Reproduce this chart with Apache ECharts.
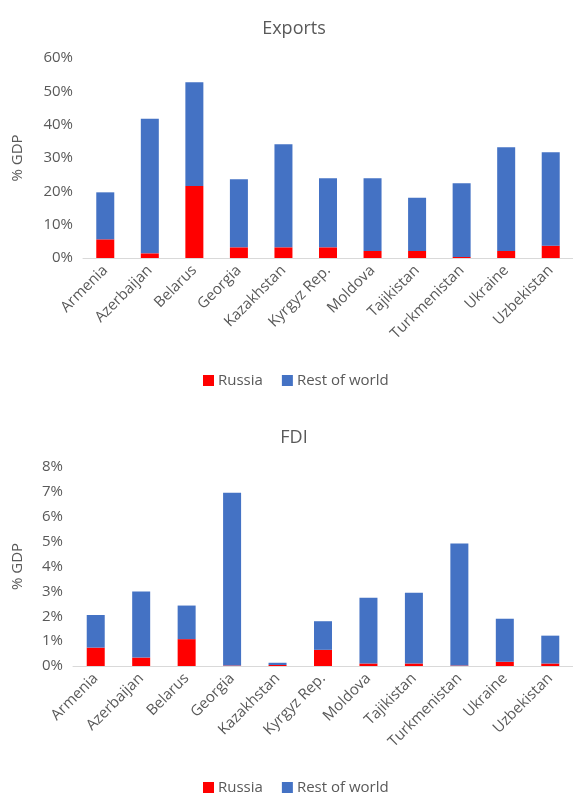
<!DOCTYPE html>
<html>
<head>
<meta charset="utf-8">
<script src="https://cdn.jsdelivr.net/npm/echarts@6/dist/echarts.min.js"></script>
<style>
  html, body { margin: 0; padding: 0; background: #fff; }
  #chart { width: 573px; height: 794px; }
</style>
</head>
<body>
<div id="chart"></div>
<script>
// countries, same order in both panels
const countries = ["Armenia", "Azerbaijan", "Belarus", "Georgia", "Kazakhstan", "Kyrgyz Rep.",
  "Moldova", "Tajikistan", "Turkmenistan", "Ukraine", "Uzbekistan"];

// Exports, % GDP
const exportsRussia = [5.6, 1.4, 21.6, 3.2, 3.2, 3.2, 2.1, 2.1, 0.3, 2.1, 3.7];
const exportsRest = [14.1, 40.4, 31.1, 20.4, 30.9, 20.7, 21.8, 16.0, 22.1, 31.1, 28.0];

// FDI, % GDP
const fdiRussia = [0.74, 0.34, 1.08, 0.02, 0.04, 0.65, 0.1, 0.1, 0.02, 0.17, 0.1];
const fdiRest = [1.31, 2.66, 1.35, 6.94, 0.09, 1.15, 2.64, 2.84, 4.9, 1.73, 1.12];

const exportsTicks = [0, 10, 20, 30, 40, 50, 60];
const fdiTicks = [0, 1, 2, 3, 4, 5, 6, 7, 8];

const fontFamily = "Open Sans";
const textColor = "#595959";
const red = "#ff0000";
const blue = "#4472c4";

function xAxisFor(gridIndex) {
  return {
    type: "category",
    gridIndex: gridIndex,
    data: countries,
    axisTick: { show: false },
    axisLine: { lineStyle: { color: "#d9d9d9" } },
    axisLabel: {
      color: textColor,
      fontFamily: fontFamily,
      fontSize: 15,
      rotate: 45,
      interval: 0,
      margin: 10
    }
  };
}

function yAxisFor(gridIndex, ticks, gap) {
  return {
    type: "value",
    gridIndex: gridIndex,
    min: ticks[0],
    max: ticks[ticks.length - 1],
    interval: ticks[1] - ticks[0],
    name: "% GDP",
    nameLocation: "middle",
    nameGap: gap,
    nameTextStyle: { color: textColor, fontFamily: fontFamily, fontSize: 15 },
    splitLine: { show: false },
    axisLine: { show: false },
    axisTick: { show: false },
    axisLabel: {
      color: textColor,
      fontFamily: fontFamily,
      fontSize: 15,
      margin: 10,
      formatter: "{value}%"
    }
  };
}

function bars(name, data, color, axisIndex, stack) {
  return {
    name: name,
    type: "bar",
    stack: stack,
    xAxisIndex: axisIndex,
    yAxisIndex: axisIndex,
    barWidth: 18,
    data: data,
    itemStyle: { color: color },
    emphasis: { disabled: true }
  };
}

function legendAt(top) {
  return {
    top: top,
    left: 198,
    itemWidth: 11,
    itemHeight: 11,
    itemGap: 19,
    icon: "rect",
    textStyle: { color: textColor, fontFamily: fontFamily, fontSize: 15, padding: [0, 0, 0, -1] },
    data: ["Russia", "Rest of world"]
  };
}

let myChart = echarts.init(document.getElementById("chart"));

let option = {
  animation: false,
  title: [
    {
      text: "Exports",
      left: 289,
      top: 15,
      textAlign: "center",
      textStyle: { color: textColor, fontFamily: fontFamily, fontSize: 18, fontWeight: "normal" }
    },
    {
      text: "FDI",
      left: 289,
      top: 424,
      textAlign: "center",
      textStyle: { color: textColor, fontFamily: fontFamily, fontSize: 18, fontWeight: "normal" }
    }
  ],
  legend: [legendAt(368), legendAt(775)],
  grid: [
    { left: 83, top: 58, right: -4, height: 200 },
    { left: 73, top: 467, right: -2, height: 199 }
  ],
  xAxis: [xAxisFor(0), xAxisFor(1)],
  yAxis: [yAxisFor(0, exportsTicks, 58), yAxisFor(1, fdiTicks, 48)],
  series: [
    bars("Russia", exportsRussia, red, 0, "exp"),
    bars("Rest of world", exportsRest, blue, 0, "exp"),
    bars("Russia", fdiRussia, red, 1, "fdi"),
    bars("Rest of world", fdiRest, blue, 1, "fdi")
  ]
};

myChart.setOption(option);
</script>
</body>
</html>
